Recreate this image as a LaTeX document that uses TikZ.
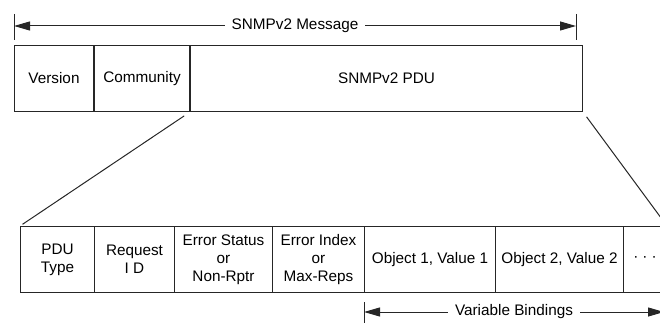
\documentclass[tikz,border=0pt]{standalone}
\usepackage{fontspec}
\setmainfont{Liberation Sans}
\usetikzlibrary{calc,arrows.meta}

\begin{document}
\begin{tikzpicture}[x=1pt,y=-1pt,
        field/.style={draw=black!85,line width=1pt,minimum height=66pt,inner sep=0pt,
            anchor=north west,align=center,font=\fontsize{15.3}{18}\selectfont},
        link/.style={draw=black!85,line width=1pt},
        span/.style={link,{Triangle[length=16pt,width=9pt]}-{Triangle[length=16pt,width=9pt]}},
        caption/.style={fill=white,inner xsep=7pt,inner ysep=2pt,font=\fontsize{15.3}{18}\selectfont}]
            \clip (0,0) rectangle (660,323);

            \node[field,minimum width=79pt] (version) at (14,45) {Version};
            \node[field,minimum width=95pt] (community) at (version.north east) {Community};
            \node[field,minimum width=392pt] (pdu) at (community.north east) {SNMPv2 PDU};

            \coordinate (msgL) at (14,26);
            \coordinate (msgR) at (576,26);
            \draw[link] ($ (msgL) + (0,-12) $) -- ++(0,26);
            \draw[link] ($ (msgR) + (0,-12) $) -- ++(0,26);
            \draw[span] (msgL) -- (msgR) node[midway,caption] (msg) {SNMPv2 Message};

            \foreach \x/\w/\name/\txt in {20/74/ptype/{PDU\\Type},
                    94/80/reqid/{Request\\I D},
                    174/98/errstat/{Error Status\\or\\Non-Rptr},
                    272/92/erridx/{Error Index\\or\\Max-Reps},
                    364/131/obj1/{Object 1, Value 1},
                    495/128/obj2/{Object 2, Value 2},
                    623/43/dots/{\textperiodcentered\hspace{4pt}\textperiodcentered\hspace{4pt}\textperiodcentered}} {
                \node[field,minimum width=\w pt] (\name) at (\x,226) {\txt};
            }

            \draw[link,shorten <=7pt,shorten >=3pt] (pdu.south west) -- (ptype.north west);
            \draw[link,shorten <=6pt] (pdu.south east) -- (dots.north east);

            \coordinate (varL) at (364,312);
            \coordinate (varR) at (664,312);
            \draw[link] ($ (varL) + (0,-10) $) -- ++(0,23);
            \draw[link] ($ (varR) + (0,-10) $) -- ++(0,23);
            \draw[span] (varL) -- (varR) node[midway,caption] (vars) {Variable Bindings};
        \end{tikzpicture}
\end{document}
